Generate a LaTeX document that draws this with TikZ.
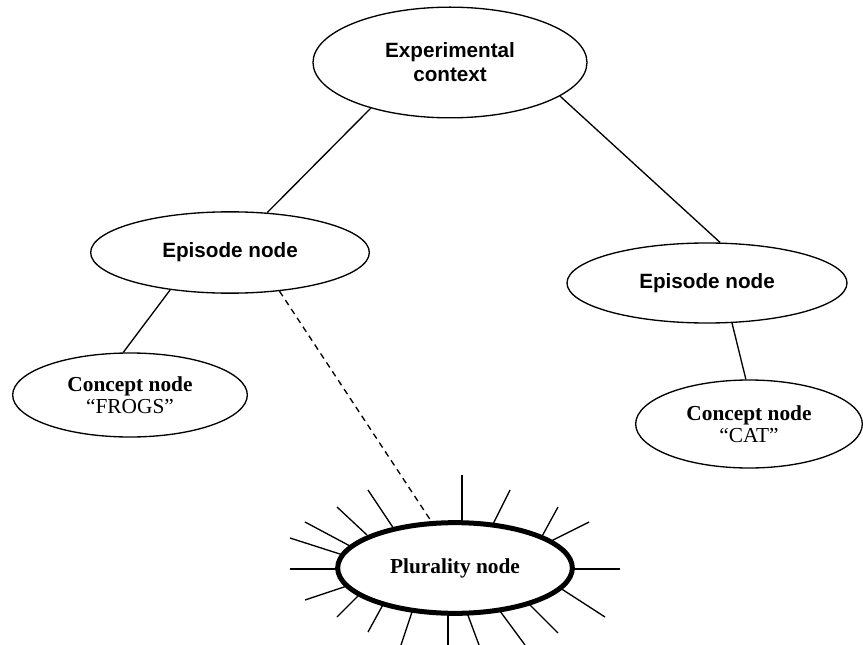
\documentclass[tikz,border=0pt]{standalone}
\usepackage{fontspec}
\setmainfont{Liberation Serif}
\setsansfont{Liberation Sans}
\usetikzlibrary{shapes.geometric}

\begin{document}
\begin{tikzpicture}[x=0.75pt,y=0.75pt,yscale=-1,
  oval/.style={draw, ellipse, line width=1pt, inner sep=0pt, align=center, fill=white},
  sanslabel/.style={font=\fontsize{15.5}{18}\selectfont\sffamily\bfseries},
  seriflabel/.style={font=\fontsize{16}{16.5}\selectfont}]
\useasboundingbox (0,0) rectangle (863,645);

%Shape: Ellipse [experimental context]
\node [oval, sanslabel, minimum width=205.5pt, minimum height=83pt] (exp) at (450,62.5) {Experimental\\context};
%Shape: Ellipse [episodes]
\node [oval, sanslabel, minimum width=209pt, minimum height=61pt] (lep) at (230,252.5) {Episode node};
\node [oval, sanslabel, minimum width=210pt, minimum height=60pt] (rep) at (707,283) {Episode node};
%Shape: Ellipse [concepts]
\node [oval, seriflabel, minimum width=176pt, minimum height=63pt] (lcon) at (130,395) {\textbf{Concept node}\\“FROGS”};
\node [oval, seriflabel, minimum width=170pt, minimum height=66pt] (rcon) at (749,424) {\textbf{Concept node}\\“CAT”};

%Straight Lines [rays]
\draw [line width=1pt] (462,475) -- (462,525) ;
\draw [line width=1pt] (510,490) -- (492,526) ;
\draw [line width=1pt] (558,507) -- (540,540) ;
\draw [line width=1pt] (589,522) -- (551,541) ;
\draw [line width=1pt] (620,569) -- (568,569) ;
\draw [line width=1pt] (605,617) -- (557,586) ;
\draw [line width=1pt] (558,633) -- (525,600) ;
\draw [line width=1pt] (525,645) -- (497,607) ;
\draw [line width=1pt] (479,645) -- (466,610) ;
\draw [line width=1pt] (448,645) -- (448,610) ;
\draw [line width=1pt] (401,645) -- (414,606) ;
\draw [line width=1pt] (368,632) -- (385,601) ;
\draw [line width=1pt] (337,617) -- (362,592) ;
\draw [line width=1pt] (305,600) -- (347,586) ;
\draw [line width=1pt] (290,569) -- (342,569) ;
\draw [line width=1pt] (290,538) -- (343,555) ;
\draw [line width=1pt] (305,522) -- (350,546) ;
\draw [line width=1pt] (337,507) -- (367,535) ;
\draw [line width=1pt] (368,490) -- (394,529) ;

%Shape: Ellipse [plurality]
\node [oval, line width=3.75pt, seriflabel, minimum width=176pt, minimum height=68pt] (pl) at (455,568) {\textbf{Plurality node}};

%Straight Lines [links]
\draw [line width=1pt] (exp.210) -- (lep.47) ;
\draw [line width=1pt] (exp.-17) -- (rep.72) ;
\draw [line width=1pt] (lep.212) -- (lcon.99) ;
\draw [line width=1pt] (rep.-58) -- (rcon.94) ;
\draw [line width=1pt, dash pattern={on 4.5pt off 3.5pt}] (lep.-38) -- (pl.117) ;

\end{tikzpicture}
\end{document}
